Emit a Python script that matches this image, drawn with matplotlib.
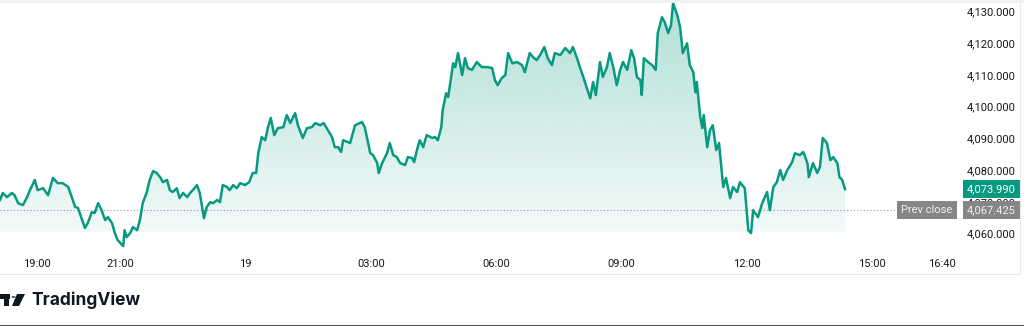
import matplotlib
matplotlib.use("Agg")
import matplotlib.pyplot as plt
import numpy as np
from matplotlib.lines import Line2D
from matplotlib.patches import Polygon, Circle, Rectangle

# minutes since 18:00 (day 18) and price
t_min = [7, 11, 17, 24, 28, 33, 40, 46, 50, 57,
         61, 69, 76, 83, 90, 97, 105, 110, 115, 119,
         125, 129, 133, 139, 143, 148, 153, 158, 162, 168,
         172, 176, 184, 186, 189, 194, 198, 204, 208, 212,
         218, 222, 227, 232, 237, 241, 247, 251, 255, 261,
         265, 270, 276, 280, 284, 290, 294, 300, 304, 309,
         313, 319, 323, 327, 333, 337, 342, 347, 352, 359,
         365, 370, 375, 378, 383, 388, 392, 396, 401, 406,
         414, 419, 424, 431, 435, 442, 448, 455, 460, 467,
         472, 478, 484, 488, 493, 497, 500, 507, 510, 517,
         527, 531, 539, 543, 549, 551, 556, 563, 567, 572,
         577, 582, 589, 593, 599, 602, 606, 610, 615, 620,
         628, 632, 636, 641, 643, 648, 651, 653, 658, 661,
         665, 671, 675, 679, 685, 692, 699, 707, 714, 718,
         722, 728, 733, 737, 743, 750, 757, 761, 768, 773,
         778, 783, 789, 794, 800, 804, 812, 819, 826, 830,
         836, 840, 845, 850, 855, 859, 863, 869, 873, 879,
         883, 888, 893, 898, 902, 908, 914, 918, 922, 927,
         929, 932, 938, 944, 949, 952, 958, 962, 967, 971,
         974, 980, 984, 988, 994, 998, 1003, 1006, 1008, 1013,
         1016, 1018, 1023, 1027, 1031, 1036, 1040, 1046, 1050, 1056,
         1060, 1066, 1070, 1077, 1082, 1086, 1089, 1096, 1102, 1109,
         1113, 1118, 1123, 1128, 1132, 1138, 1145, 1149, 1156, 1161,
         1167, 1169, 1175, 1181, 1185, 1189, 1195, 1200, 1204, 1210,
         1213, 1217, 1221]
price = [4070.6, 4072.8, 4071.5, 4072.8, 4072.1, 4069.6, 4069.0, 4071.5, 4073.7, 4076.9,
         4073.7, 4074.3, 4072.1, 4077.5, 4075.9, 4075.9, 4074.7, 4071.5, 4068.4, 4068.1,
         4064.3, 4061.8, 4063.3, 4066.8, 4066.5, 4069.6, 4067.4, 4064.3, 4065.2, 4063.3,
         4060.2, 4058.0, 4056.1, 4061.1, 4058.9, 4060.2, 4062.1, 4061.1, 4064.3, 4069.6,
         4073.1, 4076.9, 4079.7, 4079.1, 4077.8, 4076.2, 4076.9, 4073.7, 4073.1, 4074.3,
         4071.2, 4072.8, 4071.5, 4072.8, 4073.7, 4075.3, 4072.8, 4064.9, 4068.4, 4069.9,
         4069.6, 4070.6, 4069.9, 4075.3, 4074.7, 4073.7, 4075.3, 4074.3, 4075.9, 4075.3,
         4076.2, 4079.1, 4079.1, 4085.3, 4090.4, 4089.4, 4093.5, 4096.4, 4091.0, 4093.2,
         4093.5, 4097.3, 4094.8, 4097.9, 4094.1, 4090.1, 4093.2, 4093.5, 4094.8, 4094.1,
         4094.8, 4092.6, 4090.4, 4087.2, 4087.2, 4085.7, 4089.4, 4088.8, 4088.5, 4094.1,
         4095.1, 4093.5, 4085.3, 4084.7, 4082.2, 4079.1, 4082.2, 4085.3, 4088.5, 4084.7,
         4084.1, 4082.2, 4081.6, 4084.1, 4083.8, 4082.5, 4086.3, 4089.4, 4087.2, 4091.0,
         4090.1, 4090.4, 4089.4, 4093.5, 4098.9, 4104.2, 4103.0, 4106.1, 4113.6, 4112.4,
         4116.8, 4109.9, 4115.2, 4112.1, 4111.5, 4114.0, 4112.4, 4112.4, 4112.1, 4108.3,
         4106.7, 4109.0, 4109.9, 4116.8, 4113.6, 4114.0, 4113.0, 4110.8, 4116.8, 4115.5,
         4114.6, 4116.2, 4118.7, 4115.2, 4113.0, 4116.8, 4116.2, 4118.4, 4116.8, 4118.7,
         4115.2, 4112.4, 4109.3, 4105.8, 4102.6, 4107.7, 4103.6, 4114.0, 4109.3, 4112.4,
         4116.8, 4112.4, 4106.7, 4111.5, 4114.0, 4111.5, 4117.7, 4115.2, 4109.3, 4108.3,
         4103.6, 4115.2, 4114.0, 4113.0, 4111.5, 4123.1, 4128.1, 4126.5, 4123.1, 4125.6,
         4132.5, 4128.7, 4125.0, 4116.8, 4119.9, 4113.0, 4110.8, 4104.5, 4107.7, 4096.7,
         4093.2, 4097.3, 4087.2, 4092.6, 4094.1, 4086.3, 4088.5, 4074.7, 4077.5, 4071.2,
         4074.7, 4073.1, 4076.2, 4074.3, 4061.1, 4060.2, 4067.4, 4065.2, 4069.6, 4073.1,
         4067.4, 4074.7, 4076.2, 4080.0, 4076.9, 4080.0, 4082.5, 4085.3, 4084.7, 4085.7,
         4082.2, 4077.8, 4082.2, 4079.1, 4081.0, 4090.1, 4088.5, 4083.1, 4084.1, 4082.2,
         4077.8, 4076.9, 4073.99]

prev_close = 4067.425
last_price = price[-1]

xtick_pos = [60, 180, 360, 540, 720, 900, 1080, 1260, 1360]
xtick_lab = ["19:00", "21:00", "19", "03:00", "06:00", "09:00", "12:00", "15:00", "16:40"]
ytick_pos = [4060, 4070, 4080, 4090, 4100, 4110, 4120, 4130]

line_col = "#089981"
txt_col = "#131722"
fs = 8

fig = plt.figure(figsize=(10.24, 3.26), dpi=100)
ax = fig.add_axes([0, 71 / 326, 955 / 1024, 255 / 326])
ax.set_xlim(7, 1379)
ax.set_ylim(4053.3, 4133.5)

ax.plot(t_min, price, color=line_col, lw=1.8, zorder=4, solid_joinstyle="round")

# gradient area under the line
poly = ax.fill_between(t_min, price, 4053.3, color="none", lw=0)
ys = np.linspace(4133.5, 4053.3, 300)
alpha = np.interp(ys, [4060.4, 4060.6, 4133.5], [0.0, 0.05, 0.32])
grad = np.zeros((300, 1, 4))
grad[..., 0] = 8 / 255
grad[..., 1] = 153 / 255
grad[..., 2] = 129 / 255
grad[..., 3] = alpha[:, None]
im = ax.imshow(grad, extent=[7, 1379, 4053.3, 4133.5], aspect="auto", zorder=2)
im.set_clip_path(poly.get_paths()[0], transform=ax.transData)

ax.axhline(prev_close, color="#9598a1", lw=0.8, ls=(0, (1, 2)), zorder=3)

for s in ax.spines.values():
    s.set_visible(False)
ax.yaxis.tick_right()
ax.set_yticks(ytick_pos)
ax.set_yticklabels([f"{v:,.3f}" for v in ytick_pos])
ax.set_xticks(xtick_pos)
ax.set_xticklabels(xtick_lab)
ax.tick_params(axis="y", length=0, pad=8.5, labelsize=fs, labelcolor=txt_col)
ax.tick_params(axis="x", length=0, pad=3, labelsize=fs, labelcolor=txt_col)
for lab in ax.get_xticklabels() + ax.get_yticklabels():
    lab.set_fontfamily("Roboto")

# price labels
ax.text(1.0126, last_price, f"{last_price:,.3f}", transform=ax.get_yaxis_transform(),
        ha="left", va="center", fontsize=fs, family="Roboto", color="white",
        bbox=dict(boxstyle="square,pad=0.35", fc=line_col, ec="none"), zorder=10, clip_on=False)
ax.text(1.0126, prev_close, f"{prev_close:,.3f}", transform=ax.get_yaxis_transform(),
        ha="left", va="center", fontsize=fs, family="Roboto", color="#f0f0f0",
        bbox=dict(boxstyle="square,pad=0.35", fc="#868686", ec="none"), zorder=10, clip_on=False)
ax.text(0.9975, prev_close, "Prev close", transform=ax.get_yaxis_transform(),
        ha="right", va="center", fontsize=fs, family="Roboto", color="#f0f0f0",
        bbox=dict(boxstyle="square,pad=0.35", fc="#868686", ec="none"), zorder=10, clip_on=False)

# frame lines
fig.add_artist(Line2D([0, 1020 / 1024], [1 - 274 / 326] * 2, color="#e6e8ee", lw=0.8))
fig.add_artist(Line2D([1020 / 1024] * 2, [1 - 274 / 326, 1], color="#e6e8ee", lw=0.8))
fig.add_artist(Line2D([0, 1], [1 - 1 / 326] * 2, color="#eef1f4", lw=2))
fig.add_artist(Line2D([0, 1], [0.5 / 326] * 2, color="#555555", lw=1.5))

# TradingView logo
W, H = 1024, 326
def fx(px):
    return px / W
def fy(py):
    return 1 - py / H
fig.add_artist(Rectangle((fx(0), fy(299)), fx(10), 5 / H, transform=fig.transFigure, fc="#131722", ec="none"))
fig.add_artist(Rectangle((fx(4), fy(306)), fx(5), 12 / H, transform=fig.transFigure, fc="#131722", ec="none"))
fig.add_artist(Polygon([(fx(17), fy(294)), (fx(25), fy(294)), (fx(19), fy(306)), (fx(12), fy(306))],
                       closed=True, transform=fig.transFigure, fc="#131722", ec="none"))
fig.add_artist(Circle((fx(13.5), fy(297)), 2.2 / W, transform=fig.transFigure, fc="#131722", ec="none"))
fig.text(fx(31), fy(300), "TradingView", fontsize=12.5, fontweight="bold", family="Inter",
         color="#131722", ha="left", va="center")

fig.savefig("out.png", dpi=100)
